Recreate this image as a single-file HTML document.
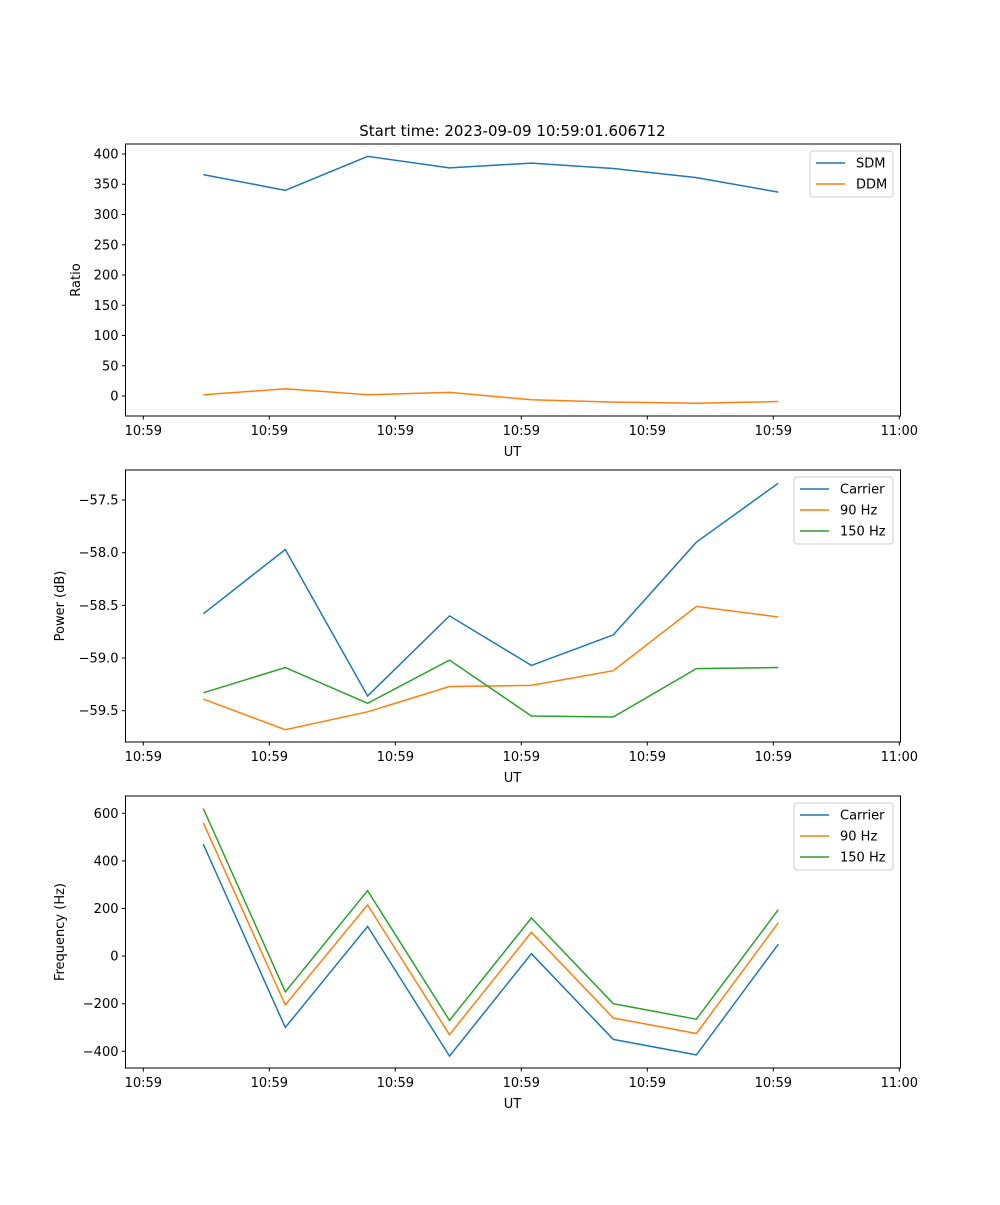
<!DOCTYPE html>
<html><head><meta charset="utf-8"><style>
body{margin:0;background:#fff}
svg text{font-family:"DejaVu Sans","Liberation Sans",sans-serif;font-size:13px;fill:#000}
</style></head><body>
<svg id="fig" width="1000" height="1200" xmlns="http://www.w3.org/2000/svg">
<text x="512.5" y="136" text-anchor="middle" font-size="15" style="font-size:15px">Start time: 2023-09-09 10:59:01.606712</text>
</svg>
<script>
const times=[0.476,1.127,1.78,2.43,3.08,3.73,4.39,5.04];
const xTickVals=[0,1,2,3,4,5,6];
const xTickLabels=["10:59","10:59","10:59","10:59","10:59","10:59","11:00"];
const sdm=[366,340,396,377,385,376,361,337];
const ddm=[2,12,2,6,-6,-10,-12,-9];
const powCarrier=[-58.58,-57.97,-59.36,-58.60,-59.07,-58.78,-57.90,-57.34];
const pow90=[-59.39,-59.68,-59.51,-59.27,-59.26,-59.12,-58.51,-58.61];
const pow150=[-59.33,-59.09,-59.43,-59.02,-59.55,-59.56,-59.10,-59.09];
const freqCarrier=[470,-300,125,-420,10,-350,-415,50];
const freq90=[560,-205,215,-330,100,-260,-325,140];
const freq150=[620,-150,275,-270,160,-200,-265,195];
const ratioTicks=[0,50,100,150,200,250,300,350,400];
const powTicks=[-59.5,-59.0,-58.5,-58.0,-57.5];
const freqTicks=[-400,-200,0,200,400,600];

const NS="http://www.w3.org/2000/svg";
const svg=document.getElementById('fig');
const C=["#1f77b4","#ff7f0e","#2ca02c"];
function el(t,a,p){const e=document.createElementNS(NS,t);for(const k in a)e.setAttribute(k,a[k]);(p||svg).appendChild(e);return e;}
const L=125.5,R=900.5;
function xs(t){return 143.3+t*126;}
function panel(name,top,bot,ymin,ymax,ticks,fmt,ylabel,series,names,legend){
  const g=el('g',{});
  
  
  const ys=v=>bot-(v-ymin)/(ymax-ymin)*(bot-top);
  series.forEach((s,i)=>{
    const p=el('polyline',{points:s.map((v,j)=>xs(times[j]).toFixed(1)+','+ys(v).toFixed(1)).join(' '),fill:'none',stroke:C[i],'stroke-width':1.5},g);
    
    
  });
  const f=el('rect',{x:L,y:top,width:R-L,height:bot-top,fill:'none',stroke:'#000','stroke-width':1},g);
  
  
  ticks.forEach(v=>{const y=ys(v);
    el('line',{x1:L-3.5,x2:L,y1:y,y2:y,stroke:'#000'},g);
    const t=el('text',{x:L-7,y:y+4.5,'text-anchor':'end'},g);t.textContent=fmt(v);
    
    
  });
  xTickVals.forEach((v,i)=>{const x=xs(v);
    el('line',{x1:x,x2:x,y1:bot,y2:bot+3.5,stroke:'#000'},g);
    const t=el('text',{x:x,y:bot+19,'text-anchor':'middle'},g);t.textContent=xTickLabels[i];
    
    
  });
  const xl=el('text',{x:512.5,y:bot+40,'text-anchor':'middle'},g);xl.textContent='UT';
  
  
  const yx=legend.ylx;
  const yl=el('text',{x:yx,y:(top+bot)/2,'text-anchor':'middle',transform:`rotate(-90 ${yx} ${(top+bot)/2})`},g);yl.textContent=ylabel;
  
  
  const lg=el('g',{},g);
  
  
  el('rect',{x:legend.x,y:top+7,width:legend.w,height:names.length*21+4,rx:3,fill:'#fff','fill-opacity':0.8,stroke:'#ccc'},lg);
  names.forEach((n,i)=>{const y=top+19+i*21;
    el('line',{x1:legend.x+6,x2:legend.x+35,y1:y,y2:y,stroke:C[i],'stroke-width':1.5},lg);
    const t=el('text',{x:legend.x+46,y:y+4.5},lg);t.textContent=n;
    
    
  });
}
panel('ratio-panel',144,416,-33,416.5,ratioTicks,v=>String(v),'Ratio',[sdm,ddm],['SDM','DDM'],{x:810,w:83,ylx:80});
panel('power-panel',470,742,-59.797,-57.215,powTicks,v=>'\u2212'.repeat(v<0?1:0)+Math.abs(v).toFixed(1),'Power (dB)',[powCarrier,pow90,pow150],['Carrier','90 Hz','150 Hz'],{x:794,w:99,ylx:64});
panel('frequency-panel',796,1068,-470,672.7,freqTicks,v=>(v<0?'\u2212':'')+Math.abs(v),'Frequency (Hz)',[freqCarrier,freq90,freq150],['Carrier','90 Hz','150 Hz'],{x:794,w:99,ylx:64});
</script>
</body></html>
